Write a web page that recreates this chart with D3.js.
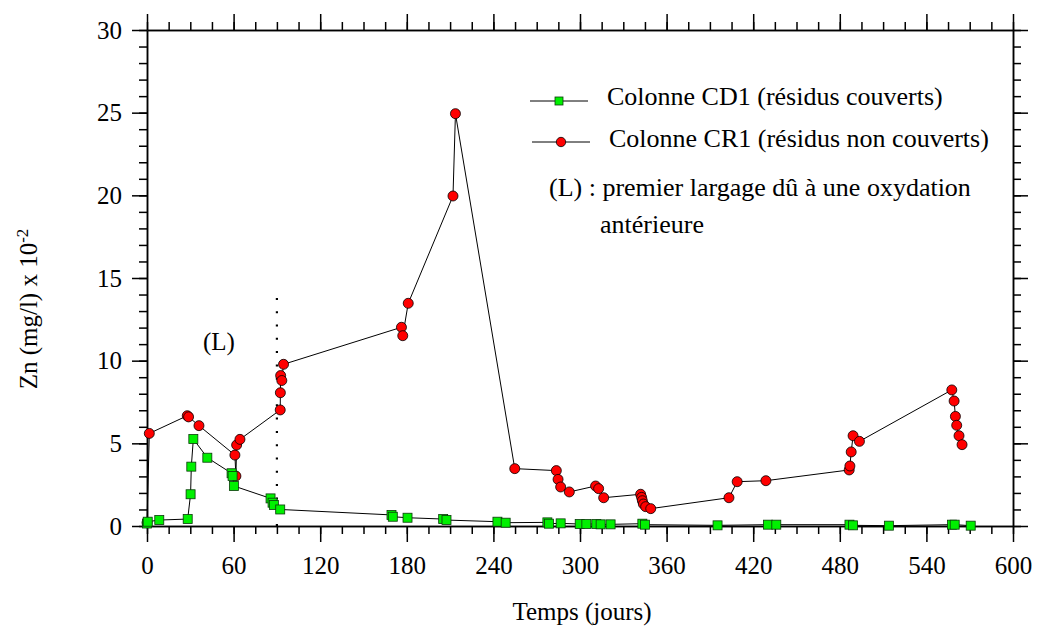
<!DOCTYPE html>
<meta charset="utf-8">
<style>
  body { margin: 0; background: #fff; }
  text { font-family: "Liberation Serif", "Times New Roman", serif; fill: #000; }
  .axis path, .axis line { stroke: #000; stroke-width: 1.5; }
  .axis text { font-family: "Liberation Serif", serif; font-size: 25px; fill: #000; }
  .line { fill: none; stroke: #000; stroke-width: 1; }
</style>
<svg width="1039" height="631"></svg>
<script src="https://cdnjs.cloudflare.com/ajax/libs/d3/7.8.5/d3.min.js"></script>
<script>

// Colonne CD1 (résidus couverts) : [jours, Zn]
var cd1 = [
  [0, 0.15], [0.5, 0.26], [8.5, 0.36], [28.2, 0.42], [30.2, 1.92], [30.7, 3.59],
  [32.1, 5.26], [41.8, 4.13], [58.6, 3.19], [59.3, 3.02], [60.2, 2.42], [85.6, 1.67],
  [87, 1.41], [87.9, 1.27], [92.3, 1.0], [169.4, 0.67], [170.3, 0.56], [180.5, 0.5],
  [205.2, 0.42], [207.5, 0.36], [242.8, 0.26], [248.5, 0.2], [277.4, 0.22], [278.5, 0.14],
  [286.6, 0.16], [299.8, 0.12], [304.4, 0.12], [311.3, 0.12], [314.3, 0.1], [321.2, 0.1],
  [343.2, 0.14], [345, 0.08], [395.3, 0.04], [430.2, 0.08], [436, 0.08], [486.7, 0.08],
  [489.2, 0.04], [514, 0.02], [557.8, 0.08], [559.6, 0.08], [570.7, 0.02]
];

// Colonne CR1 (résidus non couverts)
var cr1 = [
  [0, 0.2], [1.6, 5.6], [27.9, 6.67], [28.8, 6.6], [36, 6.07], [60.9, 4.29],
  [61.6, 3.02], [62.1, 4.9], [64.4, 5.24], [92.3, 7.02], [92.4, 8.06], [92.6, 9.1],
  [93.4, 8.8], [94.6, 9.78], [176.3, 12.02], [177.2, 11.51], [181, 13.47], [212, 19.96],
  [213.7, 24.94], [254.8, 3.47], [283.6, 3.35], [284.8, 2.82], [286.6, 2.36], [292.6, 2.06],
  [310.8, 2.42], [312.9, 2.26], [316.4, 1.71], [342, 1.92], [342.7, 1.73], [343.2, 1.53],
  [343.9, 1.33], [345.5, 1.17], [349, 1.05], [403.2, 1.71], [408.9, 2.68], [428.8, 2.74],
  [486.5, 3.39], [487, 3.63], [487.9, 4.48], [489.2, 5.46], [493.6, 5.12], [557.6, 8.23],
  [559.2, 7.56], [560.1, 6.63], [561, 6.09], [562.6, 5.46], [564.7, 4.92]
];

var xTicks = d3.range(0, 601, 60),
    xMinor = d3.range(0, 601, 15),
    yTicks = d3.range(0, 31, 5),
    yMinor = d3.range(0, 31, 1);

var largageJour = 90, largageHaut = 14;

var svg = d3.select("svg");

var x = d3.scaleLinear().domain([0, 600]).range([147, 1013]);
var y = d3.scaleLinear().domain([0, 30]).range([526, 30]);

// minor ticks first
svg.append("g").attr("class", "axis").attr("transform", "translate(0,526)")
    .call(d3.axisBottom(x).tickValues(xMinor).tickSize(8).tickSizeOuter(0).tickFormat(""));
svg.append("g").attr("class", "axis").attr("transform", "translate(0,30)")
    .call(d3.axisTop(x).tickValues(xMinor).tickSize(8).tickSizeOuter(0).tickFormat(""));
svg.append("g").attr("class", "axis").attr("transform", "translate(147,0)")
    .call(d3.axisLeft(y).tickValues(yMinor).tickSize(8).tickSizeOuter(0).tickFormat(""));
svg.append("g").attr("class", "axis").attr("transform", "translate(1013,0)")
    .call(d3.axisRight(y).tickValues(yMinor).tickSize(8).tickSizeOuter(0).tickFormat(""));

// major ticks
svg.append("g").attr("class", "axis").attr("transform", "translate(0,526)")
    .call(d3.axisBottom(x).tickValues(xTicks).tickSize(16).tickSizeOuter(0).tickPadding(14).tickFormat(d3.format("d")));
svg.append("g").attr("class", "axis").attr("transform", "translate(0,30)")
    .call(d3.axisTop(x).tickValues(xTicks).tickSize(16).tickSizeOuter(0).tickFormat(""));
svg.append("g").attr("class", "axis").attr("transform", "translate(147,0)")
    .call(d3.axisLeft(y).tickValues(yTicks).tickSize(15).tickSizeOuter(0).tickPadding(10).tickFormat(d3.format("d")));
svg.append("g").attr("class", "axis").attr("transform", "translate(1013,0)")
    .call(d3.axisRight(y).tickValues(yTicks).tickSize(15).tickSizeOuter(0).tickFormat(""));

// dotted line (L)
svg.append("line")
    .attr("x1", x(largageJour)).attr("x2", x(largageJour))
    .attr("y1", y(0)).attr("y2", y(largageHaut))
    .attr("stroke", "#000").attr("stroke-width", 2.2)
    .attr("stroke-dasharray", "2,11.3");

svg.append("text").attr("x", 203).attr("y", 350).attr("font-size", 25).text("(L)");

var line = d3.line().x(function(d) { return x(d[0]); }).y(function(d) { return y(d[1]); });

svg.append("path").datum(cr1).attr("class", "line").attr("d", line);
svg.append("path").datum(cd1).attr("class", "line").attr("d", line);

svg.selectAll(".cr1").data(cr1).enter().append("circle")
    .attr("class", "cr1")
    .attr("cx", function(d) { return x(d[0]); })
    .attr("cy", function(d) { return y(d[1]); })
    .attr("r", 5)
    .attr("fill", "#ff0000").attr("stroke", "#000").attr("stroke-width", 0.8);

svg.selectAll(".cd1").data(cd1).enter().append("rect")
    .attr("class", "cd1")
    .attr("x", function(d) { return x(d[0]) - 4.5; })
    .attr("y", function(d) { return y(d[1]) - 4.5; })
    .attr("width", 9).attr("height", 9)
    .attr("fill", "#00f000").attr("stroke", "#0a3a0a").attr("stroke-width", 0.8);

// legend
var leg = svg.append("g").attr("font-size", 26);
leg.append("line").attr("x1", 530).attr("x2", 588).attr("y1", 101).attr("y2", 101).attr("stroke", "#000");
leg.append("rect").attr("x", 555).attr("y", 97).attr("width", 8).attr("height", 8)
    .attr("fill", "#00f000").attr("stroke", "#0a3a0a").attr("stroke-width", 0.8);
leg.append("text").attr("x", 607).attr("y", 105).text("Colonne CD1 (résidus couverts)");
leg.append("line").attr("x1", 532).attr("x2", 590).attr("y1", 142).attr("y2", 142).attr("stroke", "#000");
leg.append("circle").attr("cx", 561).attr("cy", 142).attr("r", 4.7)
    .attr("fill", "#ff0000").attr("stroke", "#000").attr("stroke-width", 0.8);
leg.append("text").attr("x", 609).attr("y", 147).text("Colonne CR1 (résidus non couverts)");
leg.append("text").attr("x", 549).attr("y", 196).text("(L) : premier largage dû à une oxydation");
leg.append("text").attr("x", 600).attr("y", 233).text("antérieure");

// axis titles
svg.append("text").attr("x", 582).attr("y", 620).attr("text-anchor", "middle")
    .attr("font-size", 25).text("Temps (jours)");

var yl = svg.append("text")
    .attr("transform", "translate(37,309) rotate(-90)")
    .attr("text-anchor", "middle").attr("font-size", 25);
yl.append("tspan").text("Zn (mg/l) x 10");
yl.append("tspan").attr("font-size", 17).attr("dy", -9).text("-2");

</script>
